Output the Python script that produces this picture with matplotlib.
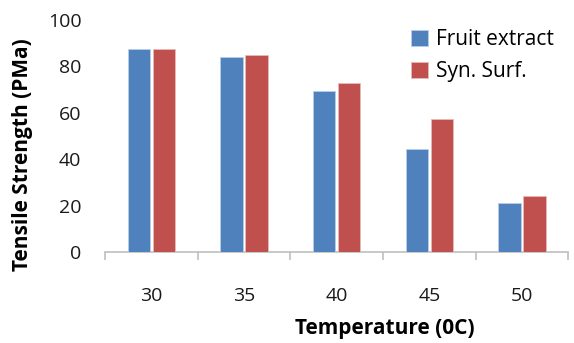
import numpy as np
import matplotlib.pyplot as plt

temps = ["30", "35", "40", "45", "50"]
fruit_extract = [87.5, 84, 69.5, 44.5, 21]
syn_surf = [87.5, 85, 72.8, 57.2, 24.3]

plt.rcParams["font.family"] = ["Open Sans", "DejaVu Sans"]

fig = plt.figure(figsize=(5.74, 3.43), dpi=100)
ax = fig.add_axes([0.183, 0.265, 0.807, 0.677])

x = np.arange(len(temps))
w = 0.24
ax.bar(x - w / 2 - 0.015, fruit_extract, w, color="#4F81BD", edgecolor="#B9CDE5",
       linewidth=0.6, label="Fruit extract", zorder=3)
ax.bar(x + w / 2 + 0.015, syn_surf, w, color="#C0504D", edgecolor="#E6B9B8",
       linewidth=0.6, label="Syn. Surf.", zorder=3)

ax.set_xlim(-0.5, len(temps) - 0.5)
ax.set_ylim(0, 100)
ax.set_yticks(range(0, 101, 20))
ax.set_xticks(x)
ax.set_xticklabels(temps)
ax.set_xticks(np.arange(-0.5, len(temps)), minor=True)

for s in ["top", "right", "left"]:
    ax.spines[s].set_visible(False)
ax.spines["bottom"].set_color("#BFBFBF")
ax.spines["bottom"].set_linewidth(1.2)

ax.tick_params(axis="y", length=0, pad=17, labelsize=14, labelcolor="#1a1a1a")
ax.tick_params(axis="x", which="major", length=0, pad=25, labelsize=14, labelcolor="#1a1a1a")
ax.tick_params(axis="x", which="minor", length=6, width=1.2, color="#BFBFBF")

ax.set_xlabel("Temperature (0C)", fontsize=15, fontweight="bold")
ax.set_ylabel("Tensile Strength (PMa)", fontsize=15, fontweight="bold")
ax.xaxis.set_label_coords(0.605, -0.285)
ax.yaxis.set_label_coords(-0.155, 0.42)

ax.legend(loc="upper right", bbox_to_anchor=(1.01, 1.04), frameon=False, fontsize=15,
          handlelength=0.8, handleheight=0.8, handletextpad=0.4, labelspacing=0.5)

fig.savefig("out.png", dpi=100)
